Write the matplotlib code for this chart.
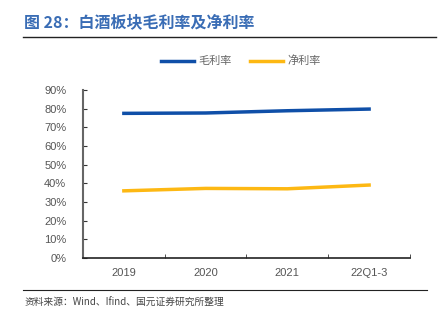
import matplotlib.pyplot as plt

plt.rcParams['font.family'] = ['Noto Sans CJK SC', 'DejaVu Sans']

categories = ['2019', '2020', '2021', '22Q1-3']
gross_margin = [77.5, 77.7, 78.9, 79.8]
net_margin = [36.0, 37.3, 37.1, 39.1]
yticks = [0, 10, 20, 30, 40, 50, 60, 70, 80, 90]

fig = plt.figure(figsize=(4.38, 3.25), dpi=100)
ax = fig.add_axes([0.1895, 0.206, 0.7465, 0.517])

x = range(len(categories))
ax.plot(x, gross_margin, color='#0F4FA8', lw=2.5, label='毛利率')
ax.plot(x, net_margin, color='#FDB813', lw=2.5, label='净利率')

ax.set_xlim(-0.5, len(categories) - 0.5)
ax.set_ylim(0, 90)
ax.set_yticks(yticks)
ax.set_yticklabels([f'{v}%' for v in yticks])
ax.set_xticks(list(x))
ax.set_xticklabels(categories)
ax.set_xticks([i - 0.5 for i in range(len(categories) + 1)], minor=True)
ax.tick_params(axis='x', which='major', length=0, pad=7)
ax.tick_params(axis='x', which='minor', direction='in', length=3, color='#333333')
ax.tick_params(axis='y', direction='in', length=3, color='#333333', pad=12)
ax.tick_params(labelsize=8, labelcolor='#555555')
for lab in ax.get_xticklabels() + ax.get_yticklabels():
    lab.set_fontfamily(['Liberation Sans', 'DejaVu Sans'])
for s in ['top', 'right']:
    ax.spines[s].set_visible(False)
ax.spines['left'].set_color('#666666')
ax.spines['left'].set_linewidth(1.5)
ax.spines['bottom'].set_color('#222222')
ax.spines['bottom'].set_linewidth(1.2)

fig.legend(loc='center', bbox_to_anchor=(0.55, 0.812), ncol=2, frameon=False,
           fontsize=8, handlelength=3.0, columnspacing=1.6, handletextpad=0.4,
           labelcolor='#666666')

fig.text(0.055, 0.932, '图 28：白酒板块毛利率及净利率', color='#3A6DB5',
         fontsize=11.5, fontweight='bold', va='center')
fig.add_artist(plt.Line2D([0.052, 0.995], [0.886, 0.886], color='#222222', lw=1))
fig.add_artist(plt.Line2D([0.052, 0.975], [0.108, 0.108], color='#222222', lw=0.8))
fig.text(0.055, 0.068, '资料来源：Wind、Ifind、国元证券研究所整理', color='#444444',
         fontsize=7, va='center')

fig.savefig('out.png', dpi=100)
